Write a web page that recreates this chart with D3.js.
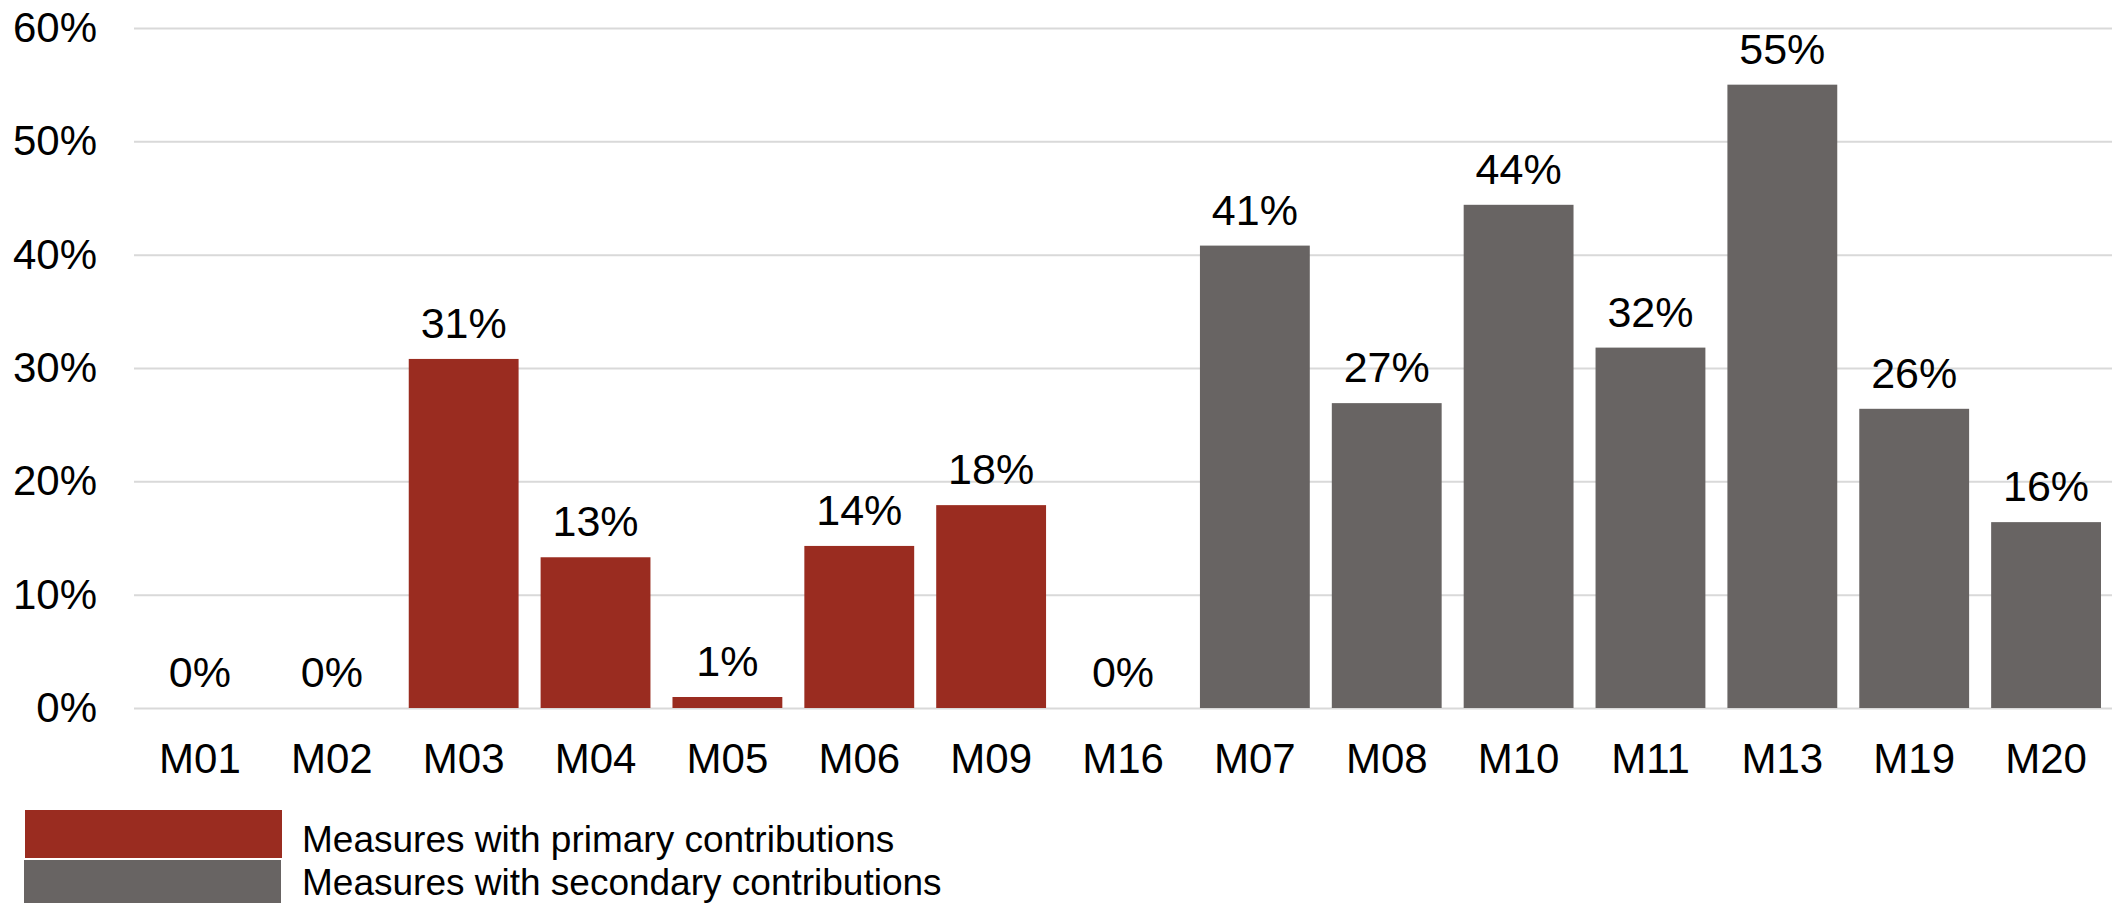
<!DOCTYPE html>
<html>
<head>
<meta charset="utf-8">
<script src="https://cdn.jsdelivr.net/npm/d3@7"></script>
<style>
  body { margin: 0; background: #fff; }
  svg { display: block; font-family: "Liberation Sans", Arial, sans-serif; }
</style>
</head>
<body>
<svg width="2112" height="903"></svg>
<script>
// measures, in the order they appear on the chart
const categories = ["M01", "M02", "M03", "M04", "M05", "M06", "M09", "M16",
                    "M07", "M08", "M10", "M11", "M13", "M19", "M20"];
// share of contribution
const values = [0, 0, 0.308, 0.133, 0.0097, 0.143, 0.179, 0,
                0.408, 0.269, 0.444, 0.318, 0.55, 0.264, 0.164];
// which group each measure belongs to
const groups = ["primary", "primary", "primary", "primary", "primary", "primary", "primary", "primary",
                "secondary", "secondary", "secondary", "secondary", "secondary", "secondary", "secondary"];
const yTicks = [0, 0.1, 0.2, 0.3, 0.4, 0.5, 0.6];
const legendLabels = ["Measures with primary contributions", "Measures with secondary contributions"];

const colors = { primary: "#9a2c20", secondary: "#686463" };

const svg = d3.select("svg");
const width = +svg.attr("width");

const x = d3.scaleBand()
  .domain(categories)
  .range([134, width])
  .paddingInner(0.167)
  .paddingOuter(0.0835);

const y = d3.scaleLinear()
  .domain([0, 0.6])
  .range([708, 28]);

const pct = d3.format(".0%");

// y axis + gridlines
const yAxis = svg.append("g")
  .attr("transform", "translate(134,0)")
  .call(d3.axisLeft(y).tickValues(yTicks).tickFormat(pct)
    .tickSizeInner(-(width - 134)).tickSizeOuter(0).tickPadding(37));
yAxis.select(".domain").remove();
yAxis.selectAll("line").attr("stroke", "#d9d9d9").attr("stroke-width", 2);
yAxis.selectAll("text")
  .attr("fill", "#000")
  .attr("font-size", 42)
  .attr("font-family", "Liberation Sans, Arial, sans-serif");

// bars
const data = categories.map((c, i) => ({ name: c, value: values[i], group: groups[i] }));

svg.append("g")
  .selectAll("rect")
  .data(data)
  .join("rect")
  .attr("x", (d) => x(d.name))
  .attr("y", (d) => y(d.value))
  .attr("width", x.bandwidth())
  .attr("height", (d) => y(0) - y(d.value))
  .attr("fill", (d) => colors[d.group]);

// value labels
svg.append("g")
  .selectAll("text")
  .data(data)
  .join("text")
  .attr("x", (d) => x(d.name) + x.bandwidth() / 2)
  .attr("y", (d) => y(d.value) - 21)
  .attr("text-anchor", "middle")
  .attr("font-size", 43)
  .text((d) => pct(d.value));

// category labels
const xAxis = svg.append("g")
  .attr("transform", "translate(0,708)")
  .call(d3.axisBottom(x).tickSize(0).tickPadding(35));
xAxis.select(".domain").remove();
xAxis.selectAll("text")
  .attr("fill", "#000")
  .attr("font-size", 42)
  .attr("font-family", "Liberation Sans, Arial, sans-serif");

// legend
const legend = svg.append("g");
legend.append("rect").attr("x", 25).attr("y", 810).attr("width", 257).attr("height", 48).attr("fill", colors.primary);
legend.append("rect").attr("x", 24).attr("y", 860).attr("width", 257).attr("height", 43).attr("fill", colors.secondary);
legend.selectAll("text")
  .data(legendLabels)
  .join("text")
  .attr("x", 302)
  .attr("y", (d, i) => 852 + i * 43)
  .attr("font-size", 37)
  .text((d) => d);
</script>
</body>
</html>
